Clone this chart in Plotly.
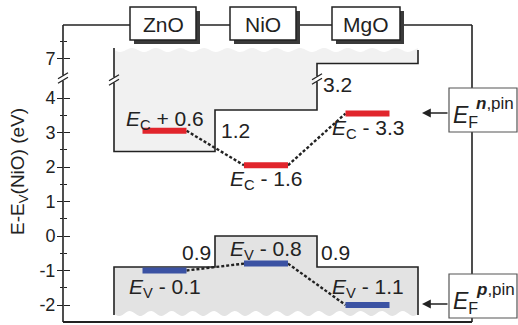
import numpy as np
import plotly.graph_objects as go

# ---- band alignment (eV, referenced to the NiO valence-band maximum) ----
materials = ["ZnO", "NiO", "MgO"]
zno_cb_edge = 2.45
cb_steps = [1.2, 3.2]                 # CB offsets ZnO->NiO, NiO->MgO
vb_steps = [0.9, 0.9]                 # VB offsets ZnO->NiO, NiO->MgO
vb_edge = [-vb_steps[0], 0.0, -vb_steps[1]]
cb_edge = list(zno_cb_edge + np.concatenate([[0.0], np.cumsum(cb_steps)]))
n_pin_shift = [0.6, -1.6, -3.3]       # E_F(n,pin) relative to E_C
p_pin_shift = [-0.1, -0.8, -1.1]      # E_F(p,pin) relative to E_V

major_ticks = [-2, -1, 0, 1, 2, 3, 4, 7]
minor_ticks = [-1.5, -0.5, 0.5, 1.5, 2.5, 3.5, 7.5]

n_pin = [c + s for c, s in zip(cb_edge, n_pin_shift)]
p_pin = [v + s for v, s in zip(vb_edge, p_pin_shift)]

# ---- canvas geometry (x in canvas units, y in eV with a broken axis) ----
W, H = 518, 325
ROW0, PX_EV = 236.0, 34.5
AXIS_BREAK, BREAK_GAP = 5.0, 1.85


def disp(v):
    """Energy -> plotted coordinate (axis is broken above AXIS_BREAK)."""
    return v - BREAK_GAP if v > AXIS_BREAK else v


def row(p):
    """Canvas row -> plotted coordinate."""
    return (ROW0 - p) / PX_EV


layer_x = [114, 215, 317, 418]
bar_half = 22
AX_X, FR_R, FR_T, FR_B = 63, 472, 25, 322
INK = "#222222"
RED, BLUE = "#e1252c", "#3b52a3"
FONT = "Liberation Sans, Arial, Helvetica, sans-serif"

fig = go.Figure()

# conduction-band region (light grey, wavy top)
wx = np.linspace(layer_x[3], layer_x[0], 180)
top_wave = [row(50 + 2.0 * np.sin(2 * np.pi * (x - 114) / 24)) for x in wx]
cb_x = [layer_x[0], layer_x[0], layer_x[1], layer_x[1], layer_x[2], layer_x[2], layer_x[3], layer_x[3]]
cb_y = [row(48), disp(cb_edge[0]), disp(cb_edge[0]), disp(cb_edge[1]), disp(cb_edge[1]),
        disp(cb_edge[2]), disp(cb_edge[2]), row(50)]
fig.add_trace(go.Scatter(x=cb_x + list(wx), y=cb_y + top_wave, fill="toself",
                         fillcolor="#f1f1f1", mode="none", hoverinfo="skip"))

# valence-band region (grey, wavy bottom)
bot_wave = [row(313.5 + 2.5 * np.sin(2 * np.pi * (x - 114) / 21)) for x in wx]
vb_x = cb_x
vb_y = [row(315), vb_edge[0], vb_edge[0], vb_edge[1], vb_edge[1], vb_edge[2], vb_edge[2], row(315)]
fig.add_trace(go.Scatter(x=vb_x + list(wx), y=vb_y + bot_wave, fill="toself",
                         fillcolor="#e3e3e3", mode="none", hoverinfo="skip"))

# band edges
for xs, ys in ((cb_x, cb_y), (vb_x, vb_y)):
    fig.add_trace(go.Scatter(x=xs, y=ys, mode="lines",
                             line=dict(color=INK, width=1.6), hoverinfo="skip"))

# pinned Fermi levels and their connectors
centers = [(layer_x[i] + layer_x[i + 1]) / 2 for i in range(3)]
for levels, color in ((n_pin, RED), (p_pin, BLUE)):
    for i in range(2):
        fig.add_trace(go.Scatter(
            x=[centers[i] + bar_half, centers[i + 1] - bar_half],
            y=[disp(levels[i]), disp(levels[i + 1])], mode="lines",
            line=dict(color=INK, width=2.4, dash="3px,2px"), hoverinfo="skip"))
    for i in range(3):
        fig.add_trace(go.Scatter(
            x=[centers[i] - bar_half, centers[i] + bar_half],
            y=[disp(levels[i])] * 2, mode="lines",
            line=dict(color=color, width=6), hoverinfo="skip"))

# invisible trace so the mirrored tick axis is drawn
fig.add_trace(go.Scatter(x=[0], y=[0], yaxis="y2", mode="markers",
                         marker=dict(opacity=0), hoverinfo="skip"))

shapes = []


def seg(x0, y0, x1, y1, color=INK, width=1.6):
    shapes.append(dict(type="line", x0=x0, y0=y0, x1=x1, y1=y1,
                       line=dict(color=color, width=width)))


# frame
seg(AX_X, row(FR_T), FR_R, row(FR_T))
seg(AX_X, row(FR_T), AX_X, row(FR_B))
seg(AX_X, row(FR_B), FR_R, row(FR_B), width=2)
seg(FR_R, row(FR_T), FR_R, row(FR_B))


def axis_break(x, pc):
    seg(x, row(pc - 2.6), x, row(pc + 2.6), color="white", width=4)
    for d in (-2.2, 2.2):
        seg(x - 5, row(pc + d + 3), x + 5, row(pc + d - 3), width=1.3)


axis_break(AX_X, 78)
axis_break(layer_x[0], 80)
axis_break(layer_x[2], 79)

# material boxes with drop shadow
box_x = [(130, 196), (230, 296), (332, 400)]
for (x0, x1), name in zip(box_x, materials):
    shapes.append(dict(type="rect", x0=x0 + 4, x1=x1 + 4, y0=row(11), y1=row(44),
                       fillcolor="#3a3a3a", line=dict(width=0)))
    shapes.append(dict(type="rect", x0=x0, x1=x1, y0=row(7), y1=row(40),
                       fillcolor="white", line=dict(color=INK, width=1.5)))

# pinning-level boxes
for r0, r1 in ((88, 132), (274, 318)):
    shapes.append(dict(type="rect", x0=449, x1=517, y0=row(r0), y1=row(r1),
                       fillcolor="white", line=dict(color="#555555", width=1.2)))

ann = []


def text(x, y, s, size=21, yshift=0, **kw):
    ann.append(dict(x=x, y=y, text=s, showarrow=False, yshift=yshift,
                    font=dict(family=FONT, size=size, color=INK), **kw))


for (x0, x1), name in zip(box_x, materials):
    text((x0 + x1) / 2, row(24), name, size=21)


def level_label(sym, shift):
    sign = "+" if shift > 0 else "-"
    return f"<i>E</i><sub>{sym}</sub> {sign} {abs(shift):.1f}"


n_shift_px = [11, -15, -15]
p_shift_px = [-17, 14, 17]
for i in range(3):
    text(centers[i], disp(n_pin[i]), level_label("C", n_pin_shift[i]), yshift=n_shift_px[i])
    text(centers[i], disp(p_pin[i]), level_label("V", p_pin_shift[i]), yshift=p_shift_px[i])

# band-offset values
text(layer_x[1] + 20, row(130), f"{cb_steps[0]:.1f}")
text(layer_x[2] + 20, row(84), f"{cb_steps[1]:.1f}")
text(layer_x[1] - 19, row(252), f"{vb_steps[0]:.1f}")
text(layer_x[2] + 18, row(252), f"{vb_steps[1]:.1f}")

# pinning-level box captions and arrows
for base, tag in ((0, "n"), (186, "p")):
    text(451, row(116 + base), "<i>E</i><sub>F</sub>", size=23, xanchor="left")
    text(474, row(103 + base), f"<b><i>{tag}</i></b>,pin", size=17, xanchor="left")
    ann.append(dict(x=422, y=row(113 + base * 1.027), ax=449, ay=row(113 + base * 1.027),
                    axref="x", ayref="y", text="", showarrow=True, arrowhead=2,
                    arrowsize=1.1, arrowwidth=1.6, arrowcolor=INK))

# y-axis title
text(19, row(172), "E-E<sub>V</sub>(NiO) (eV)", size=19, textangle=-90)

yr = [row(H), row(0)]
tv = [disp(v) for v in major_ticks]
mv = [disp(v) for v in minor_ticks]
tick_common = dict(range=yr, tickmode="array", tickvals=tv, showline=False,
                   showgrid=False, zeroline=False, tickcolor=INK, tickwidth=1.4,
                   ticklen=6, anchor="free", position=AX_X / W, fixedrange=True)

fig.update_layout(
    width=W, height=H, margin=dict(l=0, r=0, t=0, b=0),
    paper_bgcolor="white", plot_bgcolor="white", showlegend=False,
    xaxis=dict(range=[0, W], visible=False, fixedrange=True),
    yaxis=dict(**tick_common, ticks="outside", ticklabelstandoff=-2,
               ticktext=[str(v) for v in major_ticks],
               tickfont=dict(family=FONT, size=18, color=INK),
               minor=dict(tickmode="array", tickvals=mv, ticks="outside",
                          ticklen=3, tickcolor=INK, tickwidth=1.2)),
    yaxis2=dict(**tick_common, ticks="inside", overlaying="y", showticklabels=False,
                minor=dict(tickmode="array", tickvals=mv, ticks="inside",
                           ticklen=3, tickcolor=INK, tickwidth=1.2)),
    shapes=shapes, annotations=ann,
)

fig.write_html("out.html")
